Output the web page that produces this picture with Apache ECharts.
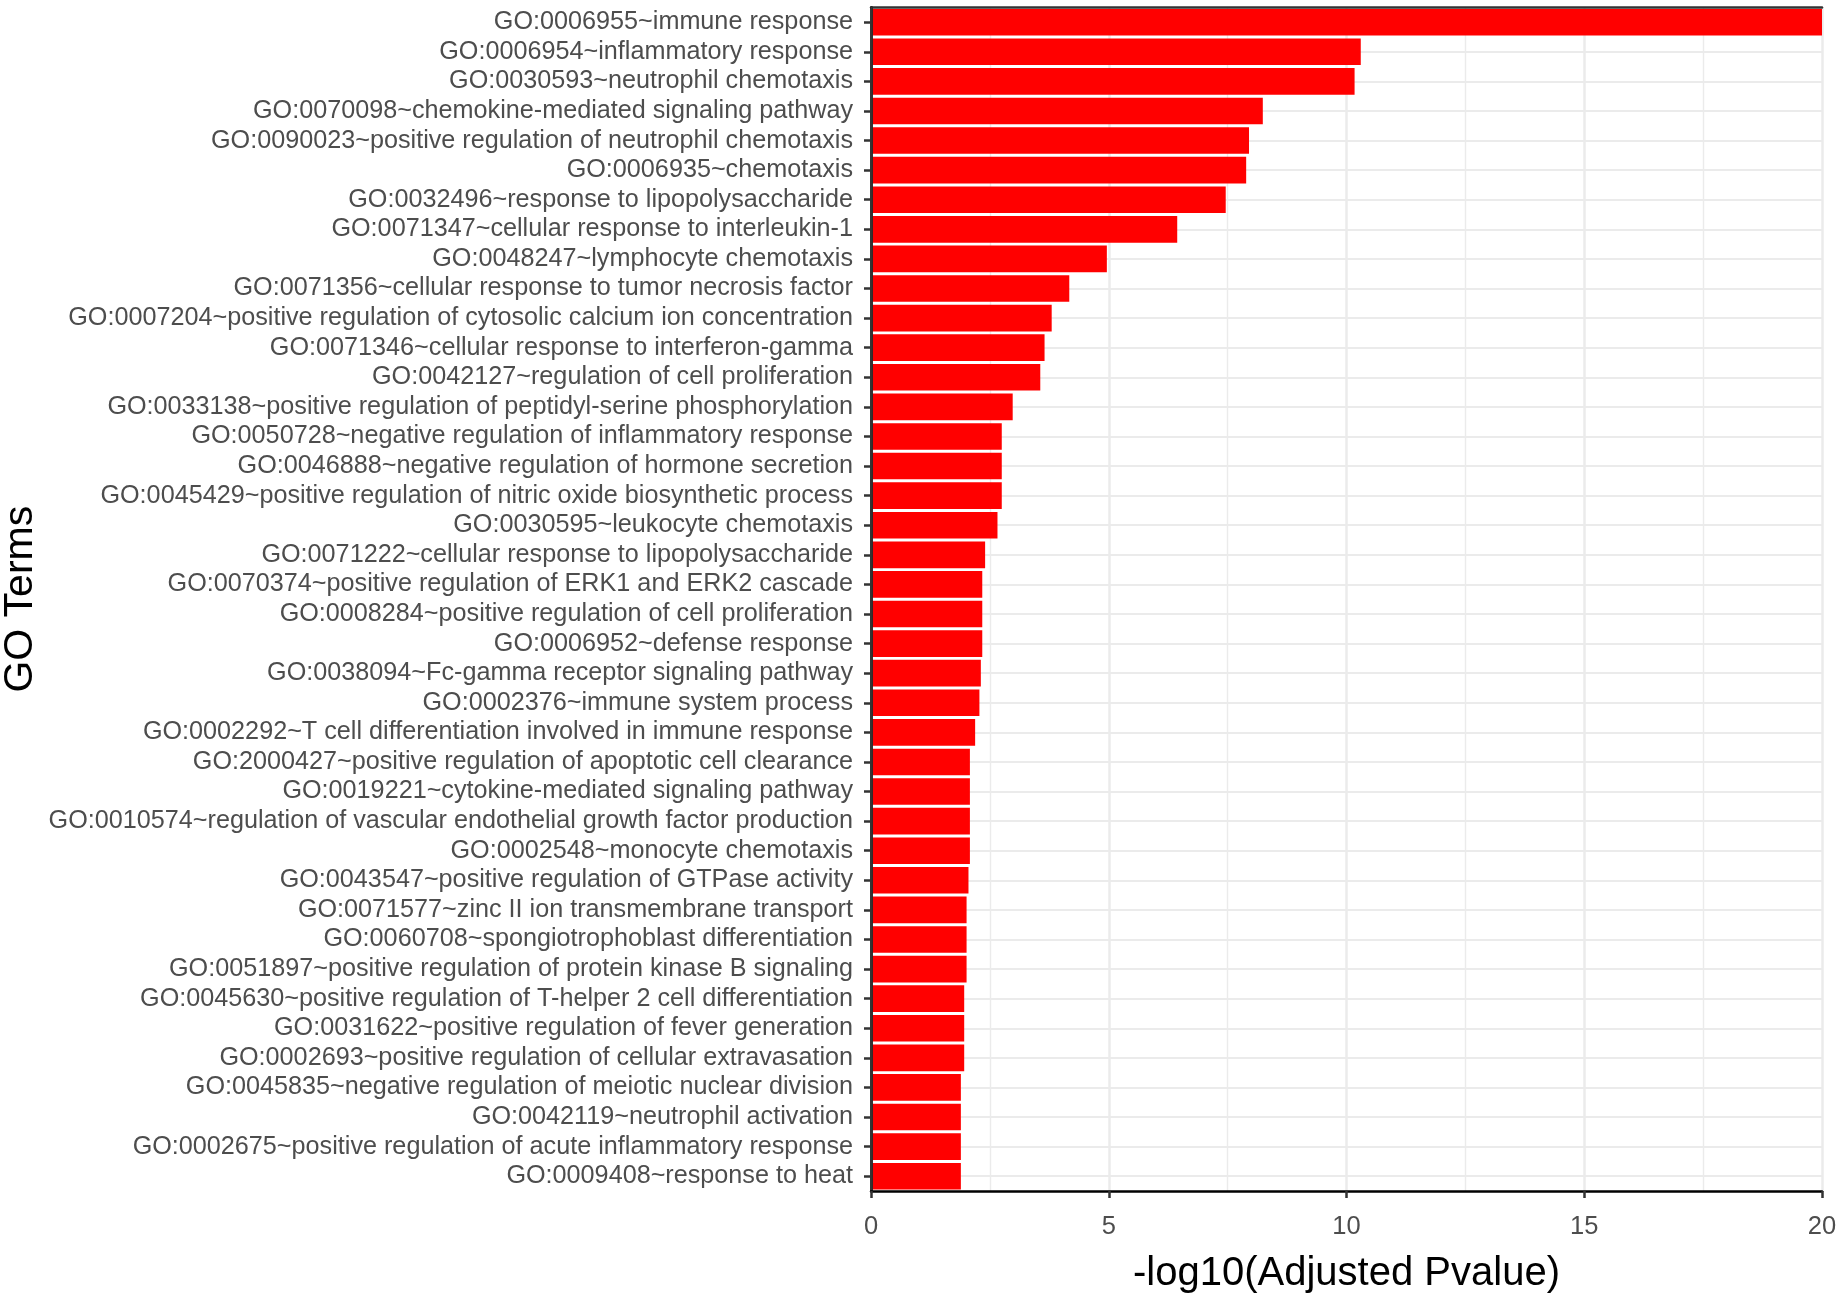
<!DOCTYPE html>
<html>
<head>
<meta charset="utf-8">
<script src="https://cdn.jsdelivr.net/npm/echarts@6/dist/echarts.min.js"></script>
<style>
html,body{margin:0;padding:0;background:#fff;}
#chart{width:1846px;height:1298px;}
</style>
</head>
<body>
<div id="chart"></div>
<script>
const categories = [
  "GO:0006955~immune response",
  "GO:0006954~inflammatory response",
  "GO:0030593~neutrophil chemotaxis",
  "GO:0070098~chemokine-mediated signaling pathway",
  "GO:0090023~positive regulation of neutrophil chemotaxis",
  "GO:0006935~chemotaxis",
  "GO:0032496~response to lipopolysaccharide",
  "GO:0071347~cellular response to interleukin-1",
  "GO:0048247~lymphocyte chemotaxis",
  "GO:0071356~cellular response to tumor necrosis factor",
  "GO:0007204~positive regulation of cytosolic calcium ion concentration",
  "GO:0071346~cellular response to interferon-gamma",
  "GO:0042127~regulation of cell proliferation",
  "GO:0033138~positive regulation of peptidyl-serine phosphorylation",
  "GO:0050728~negative regulation of inflammatory response",
  "GO:0046888~negative regulation of hormone secretion",
  "GO:0045429~positive regulation of nitric oxide biosynthetic process",
  "GO:0030595~leukocyte chemotaxis",
  "GO:0071222~cellular response to lipopolysaccharide",
  "GO:0070374~positive regulation of ERK1 and ERK2 cascade",
  "GO:0008284~positive regulation of cell proliferation",
  "GO:0006952~defense response",
  "GO:0038094~Fc-gamma receptor signaling pathway",
  "GO:0002376~immune system process",
  "GO:0002292~T cell differentiation involved in immune response",
  "GO:2000427~positive regulation of apoptotic cell clearance",
  "GO:0019221~cytokine-mediated signaling pathway",
  "GO:0010574~regulation of vascular endothelial growth factor production",
  "GO:0002548~monocyte chemotaxis",
  "GO:0043547~positive regulation of GTPase activity",
  "GO:0071577~zinc II ion transmembrane transport",
  "GO:0060708~spongiotrophoblast differentiation",
  "GO:0051897~positive regulation of protein kinase B signaling",
  "GO:0045630~positive regulation of T-helper 2 cell differentiation",
  "GO:0031622~positive regulation of fever generation",
  "GO:0002693~positive regulation of cellular extravasation",
  "GO:0045835~negative regulation of meiotic nuclear division",
  "GO:0042119~neutrophil activation",
  "GO:0002675~positive regulation of acute inflammatory response",
  "GO:0009408~response to heat"
];
const values = [
  20, 10.30, 10.17, 8.24, 7.95, 7.89, 7.46, 6.44, 4.96, 4.17,
  3.80, 3.65, 3.56, 2.98, 2.75, 2.75, 2.75, 2.66, 2.40, 2.34,
  2.34, 2.34, 2.31, 2.28, 2.19, 2.08, 2.08, 2.08, 2.08, 2.05,
  2.01, 2.01, 2.01, 1.96, 1.96, 1.96, 1.89, 1.89, 1.89, 1.89
];
const xTicks = [0, 5, 10, 15, 20];
const xTitle = "-log10(Adjusted Pvalue)";
const yTitle = "GO Terms";

const FONT = "'Liberation Sans', Arial, Helvetica, sans-serif";
const xMin = xTicks[0], xMax = xTicks[xTicks.length - 1], xStep = xTicks[1] - xTicks[0];

const chart = echarts.init(document.getElementById('chart'), null, {renderer: 'canvas'});
chart.setOption({
  animation: false,
  backgroundColor: '#ffffff',
  grid: {left: 871, right: 24, top: 7.4, bottom: 107, containLabel: false, outerBoundsMode: 'none'},
  xAxis: [
    {
      type: 'value', position: 'bottom', min: xMin, max: xMax, interval: xStep, z: 3,
      axisLine: {show: true, lineStyle: {color: '#000000', width: 2.5}},
      axisTick: {show: true, length: 7, lineStyle: {color: '#333333', width: 2.5}},
      axisLabel: {fontSize: 25.5, color: '#4D4D4D', margin: 23, fontFamily: FONT},
      splitLine: {show: false},
      name: xTitle, nameLocation: 'middle', nameGap: 63, nameMoveOverlap: false,
      nameTextStyle: {fontSize: 40, color: '#000000', fontFamily: FONT}
    },
    {
      type: 'value', position: 'top', min: xMin, max: xMax, interval: xStep, z: 0,
      axisLine: {show: true, lineStyle: {color: '#333333', width: 2.5}},
      axisTick: {show: false}, axisLabel: {show: false},
      splitLine: {show: true, lineStyle: {color: '#EBEBEB', width: 2.5}},
      minorTick: {show: false, splitNumber: 2},
      minorSplitLine: {show: true, lineStyle: {color: '#EBEBEB', width: 1.4}}
    }
  ],
  yAxis: [
    {
      type: 'category', data: categories, inverse: true, position: 'left', z: 3,
      axisLine: {show: true, lineStyle: {color: '#000000', width: 2.5}},
      axisTick: {show: true, alignWithLabel: true, interval: 0, length: 7, lineStyle: {color: '#333333', width: 2.5}},
      axisLabel: {interval: 0, fontSize: 25.2, color: '#4D4D4D', margin: 18, fontFamily: FONT},
      splitLine: {show: false},
      name: yTitle, nameLocation: 'middle', nameGap: 830, nameRotate: 90, nameMoveOverlap: false,
      nameTextStyle: {fontSize: 41, color: '#000000', fontFamily: FONT}
    },
    {
      type: 'category', data: categories, inverse: true, position: 'right', z: 3,
      axisLine: {show: true, lineStyle: {color: '#333333', width: 2.5}},
      axisTick: {show: false}, axisLabel: {show: false}, splitLine: {show: false}
    },
    {
      type: 'category', data: categories, inverse: true, position: 'left', z: 0,
      axisLine: {show: false}, axisTick: {show: false}, axisLabel: {show: false},
      splitLine: {show: true, interval: 0, alignWithLabel: true, lineStyle: {color: '#EBEBEB', width: 2}}
    }
  ],
  series: [
    {
      type: 'bar', xAxisIndex: 0, yAxisIndex: 0, data: values,
      barCategoryGap: '10%',
      itemStyle: {color: '#FF0000'},
      silent: true
    }
  ]
});
</script>
</body>
</html>
